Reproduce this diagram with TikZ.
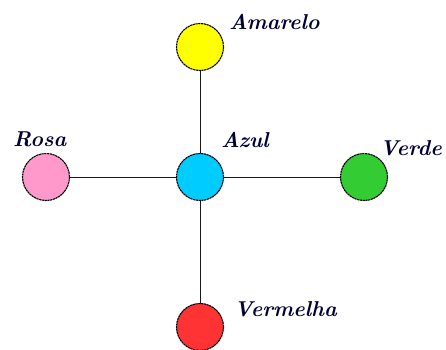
\documentclass[tikz,border=0pt]{standalone}
\usepackage{fontspec}
\begin{document}
\begin{tikzpicture}[x=1pt,y=-1pt,
  dot/.style={circle,draw=black,line width=1.1pt,dash pattern=on 2.2pt off 0.6pt,minimum size=47pt,inner sep=0pt},
  lbl/.style={font=\fontsize{21.5}{25}\selectfont\itshape\bfseries,text=black!80!blue,inner sep=0pt,anchor=west},
  link/.style={draw=black!90,line width=1pt}]
  \useasboundingbox (0,0) rectangle (446,349);
  % node positions
  \coordinate (pc) at (200,177);
  \coordinate (pn) at (200,47);
  \coordinate (ps) at (200,327);
  \coordinate (pw) at (46,177);
  \coordinate (pe) at (364,177);
  % connectors from the centre outwards
  \draw[link] (pc) -- (pn);
  \draw[link] (pc) -- (ps);
  \draw[link] (pc) -- (pw);
  \draw[link] (pc) -- (pe);
  % coloured dots
  \node[dot,fill={rgb,255:red,255;green,255;blue,0}]   (amarelo)  at (pn) {};
  \node[dot,fill={rgb,255:red,255;green,153;blue,204}] (rosa)     at (pw) {};
  \node[dot,fill={rgb,255:red,0;green,204;blue,255}]   (azul)     at (pc) {};
  \node[dot,fill={rgb,255:red,51;green,204;blue,51}]   (verde)    at (pe) {};
  \node[dot,fill={rgb,255:red,255;green,51;blue,51}]   (vermelha) at (ps) {};
  % labels
  \node[lbl] (tamarelo)  at (229,22)  {Amarelo};
  \node[lbl] (trosa)     at (13,139)  {Rosa};
  \node[lbl] (tazul)     at (221,140) {Azul};
  \node[lbl,anchor=east] (tverde) at (442,148) {Verde};
  \node[lbl] (tvermelha) at (234,309) {Vermelha};
\end{tikzpicture}
\end{document}
